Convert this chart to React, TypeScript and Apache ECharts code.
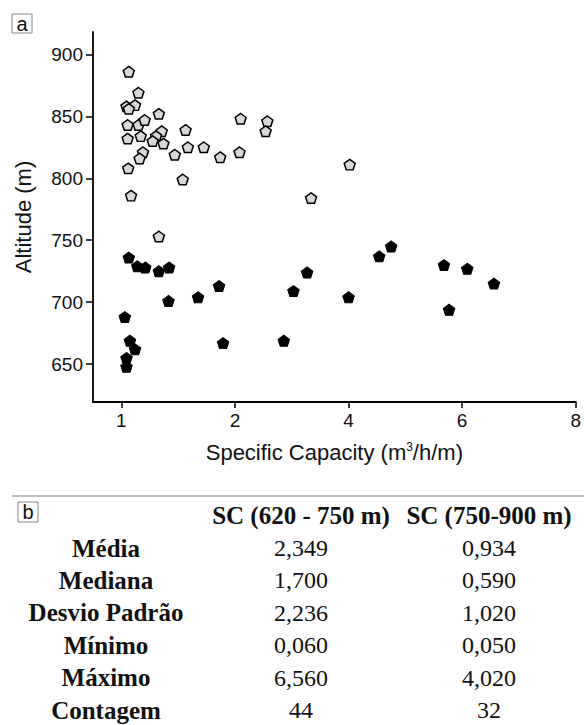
import React, { useEffect, useRef } from "react";
import * as echarts from "echarts";

// ---- data ----
const xTickValues = [0, 2, 4, 6, 8];
const xTickLabels = ["1", "2", "4", "6", "8"];
const yTickValues = [650, 700, 750, 800, 850, 900];

// 750-900 m group (light pentagons)
const upperSC = [0.13, 0.30, 0.09, 0.24, 0.13, 0.66, 0.11, 0.30, 0.41, 2.10, 2.57, 2.54, 0.11, 0.34, 0.71, 0.61, 0.55, 0.74, 1.13, 0.38, 0.32, 0.94, 1.17, 1.45, 1.74, 2.08, 0.12, 1.08, 4.02, 0.17, 3.34, 0.66];
const upperAlt = [886, 869, 858, 859, 856, 852, 843, 843, 847, 848, 846, 838, 832, 834, 838, 834, 830, 828, 839, 821, 816, 819, 825, 825, 817, 821, 808, 799, 811, 786, 784, 753];

// 620-750 m group (dark pentagons)
const lowerSC = [0.13, 0.28, 0.42, 0.66, 0.84, 0.83, 0.06, 0.15, 0.24, 0.09, 0.09, 1.35, 1.72, 1.79, 2.86, 3.03, 3.27, 4.00, 4.54, 4.75, 5.68, 5.77, 6.09, 6.56];
const lowerAlt = [736, 729, 728, 725, 728, 701, 688, 669, 662, 655, 648, 704, 713, 667, 669, 709, 724, 704, 737, 745, 730, 694, 727, 715];

// table
const tableHeaders = ["SC (620 - 750 m)", "SC (750-900 m)"];
const statNames = ["Média", "Mediana", "Desvio Padrão", "Mínimo", "Máximo", "Contagem"];
const scLow = ["2,349", "1,700", "2,236", "0,060", "6,560", "44"];
const scHigh = ["0,934", "0,590", "1,020", "0,050", "4,020", "32"];

const PENTAGON = "path://M0,-100L95.1,-30.9L58.8,80.9L-58.8,80.9L-95.1,-30.9Z";
const SANS = "'Liberation Sans', Arial, sans-serif";
const SERIF = "'Liberation Serif', 'Times New Roman', serif";

export default function App() {
  const ref = useRef<HTMLDivElement>(null);

  useEffect(() => {
    document.body.style.margin = "0";
    if (!ref.current) return;
    const chart = echarts.init(ref.current, null, { renderer: "svg" });

    const graphic: any[] = [];
    // panel label a
    graphic.push({ type: "rect", shape: { x: 12, y: 14, width: 20, height: 19 }, style: { fill: "#fff", stroke: "#888", lineWidth: 1 } });
    graphic.push({ type: "text", x: 22, y: 23.5, style: { text: "a", font: `20px ${SANS}`, fill: "#111", align: "center", verticalAlign: "middle" } });
    // separator
    graphic.push({ type: "line", shape: { x1: 12, y1: 496, x2: 584, y2: 496 }, style: { stroke: "#aaa", lineWidth: 1.5 } });
    // panel label b
    graphic.push({ type: "rect", shape: { x: 18, y: 502, width: 20, height: 20 }, style: { fill: "#fff", stroke: "#888", lineWidth: 1 } });
    graphic.push({ type: "text", x: 28, y: 512, style: { text: "b", font: `20px ${SANS}`, fill: "#111", align: "center", verticalAlign: "middle" } });

    const colX = [106, 301, 489];
    const headerY = 515;
    const rowY0 = 548;
    const rowStep = 32.4;
    tableHeaders.forEach((h, i) => {
      graphic.push({ type: "text", x: colX[i + 1], y: headerY, style: { text: h, font: `bold 25px ${SERIF}`, fill: "#111", align: "center", verticalAlign: "middle" } });
    });
    statNames.forEach((name, r) => {
      const y = rowY0 + r * rowStep;
      graphic.push({ type: "text", x: colX[0], y, style: { text: name, font: `bold 25px ${SERIF}`, fill: "#111", align: "center", verticalAlign: "middle" } });
      graphic.push({ type: "text", x: colX[1], y, style: { text: scLow[r], font: `24px ${SERIF}`, fill: "#111", align: "center", verticalAlign: "middle" } });
      graphic.push({ type: "text", x: colX[2], y, style: { text: scHigh[r], font: `24px ${SERIF}`, fill: "#111", align: "center", verticalAlign: "middle" } });
    });

    chart.setOption({
      animation: false,
      backgroundColor: "#fff",
      grid: { left: 93, right: 4, top: 32, bottom: 323, containLabel: false },
      xAxis: {
        type: "value",
        min: -0.5,
        max: 8,
        name: "Specific Capacity (m{sup|3}/h/m)",
        nameLocation: "middle",
        nameGap: 39,
        nameTextStyle: {
          fontFamily: SANS,
          fontSize: 22,
          color: "#111",
          rich: { sup: { fontFamily: SANS, fontSize: 12, verticalAlign: "top", lineHeight: 12, color: "#111" } },
        },
        axisLine: { show: true, onZero: false, lineStyle: { color: "#000", width: 1.8 } },
        axisTick: { show: true, length: 6, customValues: xTickValues, lineStyle: { color: "#000", width: 1.5 } },
        axisLabel: {
          customValues: xTickValues,
          margin: 9,
          fontFamily: SANS,
          fontSize: 19,
          color: "#111",
          formatter: (v: number) => {
            const i = xTickValues.indexOf(v);
            return i >= 0 ? xTickLabels[i] : "";
          },
        },
        splitLine: { show: false },
      },
      yAxis: {
        type: "value",
        min: 619.5,
        max: 918,
        name: "Altitude (m)",
        nameLocation: "middle",
        nameGap: 59,
        nameTextStyle: { fontFamily: SANS, fontSize: 22, color: "#111" },
        axisLine: { show: true, onZero: false, lineStyle: { color: "#000", width: 1.8 } },
        axisTick: { show: true, length: 7, customValues: yTickValues, lineStyle: { color: "#000", width: 1.5 } },
        axisLabel: { customValues: yTickValues, margin: 10, fontFamily: SANS, fontSize: 19, color: "#111" },
        splitLine: { show: false },
      },
      series: [
        {
          type: "scatter",
          name: "750-900 m",
          symbol: PENTAGON,
          symbolSize: [11, 10.5],
          itemStyle: { color: "#d8d8d8", borderColor: "#000", borderWidth: 1.5, opacity: 1 },
          data: upperSC.map((x, i) => [x, upperAlt[i]]),
        },
        {
          type: "scatter",
          name: "620-750 m",
          symbol: PENTAGON,
          symbolSize: [11.5, 11],
          itemStyle: { color: "#000", borderColor: "#000", borderWidth: 1, opacity: 1 },
          data: lowerSC.map((x, i) => [x, lowerAlt[i]]),
        },
      ],
      graphic,
    });

    return () => chart.dispose();
  }, []);

  return <div ref={ref} style={{ position: "absolute", left: 0, top: 0, width: 584, height: 725 }} />;
}
